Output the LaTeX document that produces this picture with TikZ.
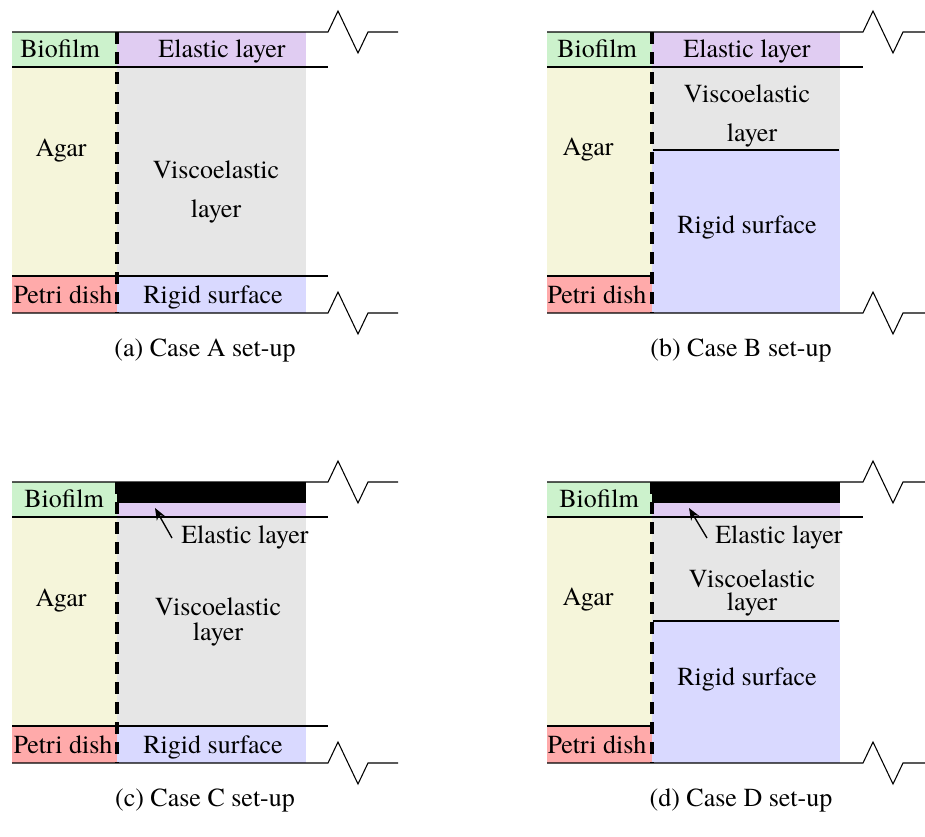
\documentclass[tikz,border=0pt]{standalone}
\usepackage{fontspec}
\setmainfont{texgyretermes}[Extension=.otf, UprightFont=*-regular, BoldFont=*-bold, ItalicFont=*-italic, BoldItalicFont=*-bolditalic]
\usetikzlibrary{arrows.meta}
\definecolor{cbio}{RGB}{204,242,204}
\definecolor{cela}{RGB}{224,204,242}
\definecolor{cagar}{RGB}{245,245,218}
\definecolor{cvis}{RGB}{230,230,230}
\definecolor{cpetri}{RGB}{255,170,170}
\definecolor{crig}{RGB}{217,217,255}
\begin{document}
\begin{tikzpicture}[x=0.75pt,y=-0.75pt,
  font=\rmfamily\fontsize{19.5}{23}\selectfont,
  edge/.style={line width=0.8pt},
  sep/.style={line width=2.6pt, dash pattern=on 9pt off 6pt},
  lbl/.style={anchor=base, inner sep=0pt},
  pointer/.style={-{Stealth[length=9pt,width=7pt]}, line width=1pt}]
\useasboundingbox (0,0) rectangle (925,836);

% ---------- Panel A ----------
\begin{scope}
\fill[cbio] (12,32) rectangle (117,67);
\fill[cagar] (12,67) rectangle (117,276);
\fill[cpetri] (12,276) rectangle (117,313);
\fill[cela] (117,32) rectangle (306,67);
\fill[cvis] (117,67) rectangle (306,276);
\fill[crig] (117,276) rectangle (306,313);
\draw[edge] (12,32) -- (328,32) -- (338,11) -- (358,53) -- (368,32) -- (398,32);
\draw[edge] (12,313) -- (328,313) -- (338,292) -- (358,334) -- (368,313) -- (398,313);
\draw[edge] (12,67) -- (328,67);
\draw[edge] (12,276) -- (328,276);
\draw[sep] (117,32) -- (117,313);
\node[lbl] (aBio) at (60,57) {Biofilm};
\node[lbl] (aEla) at (222,57) {Elastic layer};
\node[lbl] (aAgar) at (61,156) {Agar};
\node[lbl] (aVis1) at (216,178) {Viscoelastic};
\node[lbl] (aVis2) at (216,217) {layer};
\node[lbl] (aPet) at (63,303) {Petri dish};
\node[lbl] (aRig) at (213,303) {Rigid surface};
\node[lbl] (aCap) at (205,356) {(a) Case A set-up};
\end{scope}

% ---------- Panel B ----------
\begin{scope}[shift={(535,0)}]
\fill[cbio] (12,32) rectangle (117,67);
\fill[cagar] (12,67) rectangle (117,276);
\fill[cpetri] (12,276) rectangle (117,313);
\fill[cela] (117,32) rectangle (305,67);
\fill[cvis] (117,67) rectangle (305,150);
\fill[crig] (117,150) rectangle (305,313);
\draw[edge] (12,32) -- (328,32) -- (338,11) -- (358,53) -- (368,32) -- (398,32);
\draw[edge] (12,313) -- (328,313) -- (338,292) -- (358,334) -- (368,313) -- (398,313);
\draw[edge] (12,67) -- (328,67);
\draw[edge] (12,276) -- (117,276);
\draw[edge] (118,150) -- (304,150);
\draw[sep] (117,32) -- (117,313);
\node[lbl] (bBio) at (62,57) {Biofilm};
\node[lbl] (bEla) at (212,57) {Elastic layer};
\node[lbl] (bAgar) at (53,155) {Agar};
\node[lbl] (bVis1) at (212,102) {Viscoelastic};
\node[lbl] (bVis2) at (217,141) {layer};
\node[lbl] (bPet) at (62,303) {Petri dish};
\node[lbl] (bRig) at (212,233) {Rigid surface};
\node[lbl] (bCap) at (206,356) {(b) Case B set-up};
\end{scope}

% ---------- Panel C ----------
\begin{scope}[shift={(0,450)}]
\fill[cbio] (12,32) rectangle (117,67);
\fill[cagar] (12,67) rectangle (117,276);
\fill[cpetri] (12,276) rectangle (117,313);
\fill[black] (117,32) rectangle (306,53);
\fill[cela] (117,53) rectangle (306,67);
\fill[cvis] (117,67) rectangle (306,276);
\fill[crig] (117,276) rectangle (306,313);
\draw[edge] (12,32) -- (328,32) -- (338,11) -- (358,53) -- (368,32) -- (398,32);
\draw[edge] (12,313) -- (328,313) -- (338,292) -- (358,334) -- (368,313) -- (398,313);
\draw[edge] (12,67) -- (328,67);
\draw[edge] (12,276) -- (328,276);
\draw[sep] (117,32) -- (117,313);
\node[lbl] (cBio) at (64,57) {Biofilm};
\node[lbl, anchor=base west] (cEla) at (181,93) {Elastic layer};
\coordinate (cTail) at (172,88);
\coordinate (cTip) at (155,58);
\draw[pointer] (cTail) -- (cTip);
\node[lbl] (cAgar) at (61,156) {Agar};
\node[lbl] (cVis1) at (218,165) {Viscoelastic};
\node[lbl] (cVis2) at (218,190) {layer};
\node[lbl] (cPet) at (63,303) {Petri dish};
\node[lbl] (cRig) at (213,303) {Rigid surface};
\node[lbl] (cCap) at (205,356) {(c) Case C set-up};
\end{scope}

% ---------- Panel D ----------
\begin{scope}[shift={(535,450)}]
\fill[cbio] (12,32) rectangle (117,67);
\fill[cagar] (12,67) rectangle (117,276);
\fill[cpetri] (12,276) rectangle (117,313);
\fill[black] (117,32) rectangle (305,53);
\fill[cela] (117,53) rectangle (305,67);
\fill[cvis] (117,67) rectangle (305,171);
\fill[crig] (117,171) rectangle (305,313);
\draw[edge] (12,32) -- (328,32) -- (338,11) -- (358,53) -- (368,32) -- (398,32);
\draw[edge] (12,313) -- (328,313) -- (338,292) -- (358,334) -- (368,313) -- (398,313);
\draw[edge] (12,67) -- (328,67);
\draw[edge] (12,276) -- (117,276);
\draw[edge] (118,171) -- (304,171);
\draw[sep] (117,32) -- (117,313);
\node[lbl] (dBio) at (64,57) {Biofilm};
\node[lbl, anchor=base west] (dEla) at (180,93) {Elastic layer};
\coordinate (dTail) at (172,88);
\coordinate (dTip) at (154,58);
\draw[pointer] (dTail) -- (dTip);
\node[lbl] (dAgar) at (53,155) {Agar};
\node[lbl] (dVis1) at (217,137) {Viscoelastic};
\node[lbl] (dVis2) at (217,160) {layer};
\node[lbl] (dPet) at (62,303) {Petri dish};
\node[lbl] (dRig) at (212,235) {Rigid surface};
\node[lbl] (dCap) at (206,356) {(d) Case D set-up};
\end{scope}
\end{tikzpicture}
\end{document}
